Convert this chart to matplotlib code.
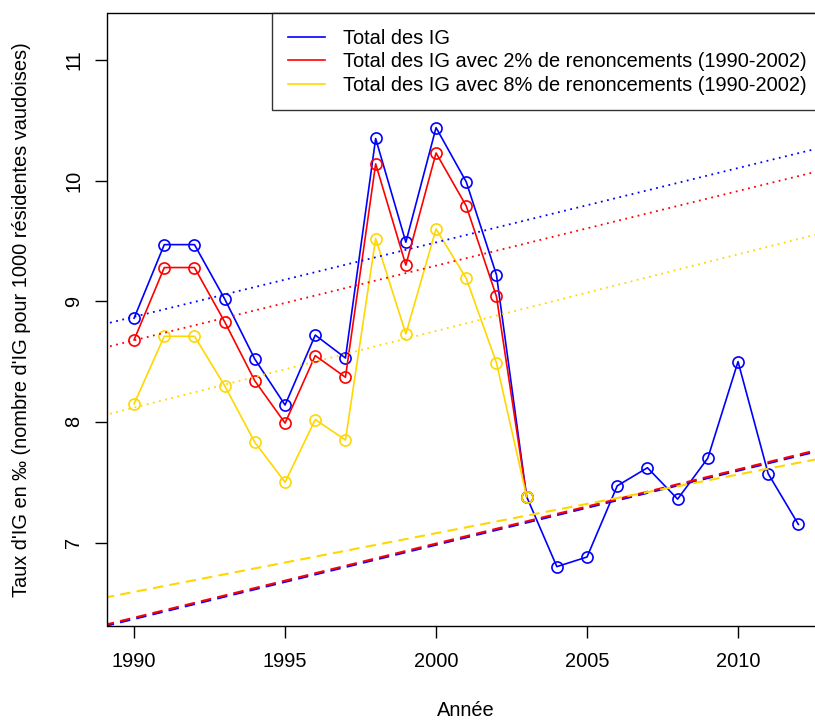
import matplotlib
matplotlib.use("Agg")
import matplotlib.pyplot as plt
from matplotlib.lines import Line2D

plt.rcParams['font.family'] = ['Liberation Sans', 'DejaVu Sans']

# Annual rates (per mille)
years = list(range(1990, 2013))
total_ig = [8.86, 9.47, 9.47, 9.02, 8.52, 8.14, 8.72, 8.53, 10.35, 9.49, 10.44,
            9.99, 9.22, 7.38, 6.80, 6.88, 7.47, 7.62, 7.36, 7.70, 8.50, 7.57, 7.15]
years_adj = list(range(1990, 2004))
total_ig_2pct = [8.68, 9.28, 9.28, 8.83, 8.34, 7.99, 8.55, 8.37, 10.14, 9.30,
                 10.23, 9.79, 9.04, 7.38]
total_ig_8pct = [8.15, 8.71, 8.71, 8.30, 7.83, 7.50, 8.02, 7.85, 9.52, 8.73,
                 9.60, 9.19, 8.49, 7.38]

# Trend lines, evaluated at both ends of the period
trend_years = [1989, 2013]
trend_dotted_total = [8.81, 10.29]
trend_dotted_2pct = [8.615, 10.10]
trend_dotted_8pct = [8.055, 9.58]
trend_dashed_total = [6.305, 7.78]
trend_dashed_2pct = [6.315, 7.79]
trend_dashed_8pct = [6.542, 7.71]

x_ticks = [1990, 1995, 2000, 2005, 2010]
y_ticks = [7, 8, 9, 10, 11]
legend_labels = ["Total des IG",
                 "Total des IG avec 2% de renoncements (1990-2002)",
                 "Total des IG avec 8% de renoncements (1990-2002)"]

BLUE, RED, YELLOW = "#0000FF", "#FF0000", "#FFD700"
FS = 14.4

fig = plt.figure(figsize=(8.15, 7.2), dpi=100)
W, H = 815, 720
left, right, top, bottom = 107.5, 825.0, 13.3, 625.5
ax = fig.add_axes([left / W, 1 - bottom / H, (right - left) / W, (bottom - top) / H])

lw = 1.2
mk = dict(marker='o', markersize=8, markerfacecolor='none', markeredgewidth=1.2)
ax.plot(years, total_ig, color=BLUE, lw=lw, markeredgecolor=BLUE, **mk)
ax.plot(years_adj, total_ig_2pct, color=RED, lw=lw, markeredgecolor=RED, **mk)
ax.plot(years_adj, total_ig_8pct, color=YELLOW, lw=lw, markeredgecolor=YELLOW, **mk)

dotted = (0, (1, 2.5))
ax.plot(trend_years, trend_dotted_total, color=BLUE, lw=1.3, ls=dotted)
ax.plot(trend_years, trend_dotted_2pct, color=RED, lw=1.3, ls=dotted)
ax.plot(trend_years, trend_dotted_8pct, color=YELLOW, lw=1.3, ls=dotted)

dashed = (0, (5, 3))
ax.plot(trend_years, trend_dashed_total, color=BLUE, lw=1.5, ls=dashed)
ax.plot(trend_years, trend_dashed_2pct, color=RED, lw=1.5, ls=dashed)
ax.plot(trend_years, trend_dashed_8pct, color=YELLOW, lw=1.5, ls=dashed)

ax.set_xlim(1989.12, 2012.88)
ax.set_ylim(6.312, 11.388)
ax.set_xticks(x_ticks)
ax.set_yticks(y_ticks)
ax.set_xticklabels([str(v) for v in x_ticks], fontsize=FS)
ax.set_yticklabels([str(v) for v in y_ticks], fontsize=FS, rotation=90, va='center')
ax.tick_params(axis='both', direction='out', length=8.4, width=1.0, color='black')
ax.tick_params(axis='x', pad=10.5)
ax.tick_params(axis='y', pad=9)
for s in ax.spines.values():
    s.set_linewidth(1.0)
    s.set_color('black')

ax.set_xlabel("Année", fontsize=FS)
ax.xaxis.set_label_coords(0.5, (bottom - 710) / (bottom - top))
ax.xaxis.label.set_va('center')
ax.set_ylabel("Taux d'IG en ‰ (nombre d'IG pour 1000 résidentes vaudoises)", fontsize=FS)
ax.yaxis.set_label_coords((22 - left) / (right - left), 0.5)
ax.yaxis.label.set_va('center')

handles = [Line2D([], [], color=c, lw=1.2) for c in (BLUE, RED, YELLOW)]
leg = fig.legend(handles, legend_labels, loc='upper left',
                 bbox_to_anchor=(272 / W, 1 - top / H), fontsize=FS,
                 frameon=True, fancybox=False, borderpad=0.78, labelspacing=0.22,
                 handlelength=1.85, handletextpad=0.9, borderaxespad=0)
leg.get_frame().set_edgecolor('black')
leg.get_frame().set_linewidth(1.0)

fig.savefig("out.png", dpi=100)
